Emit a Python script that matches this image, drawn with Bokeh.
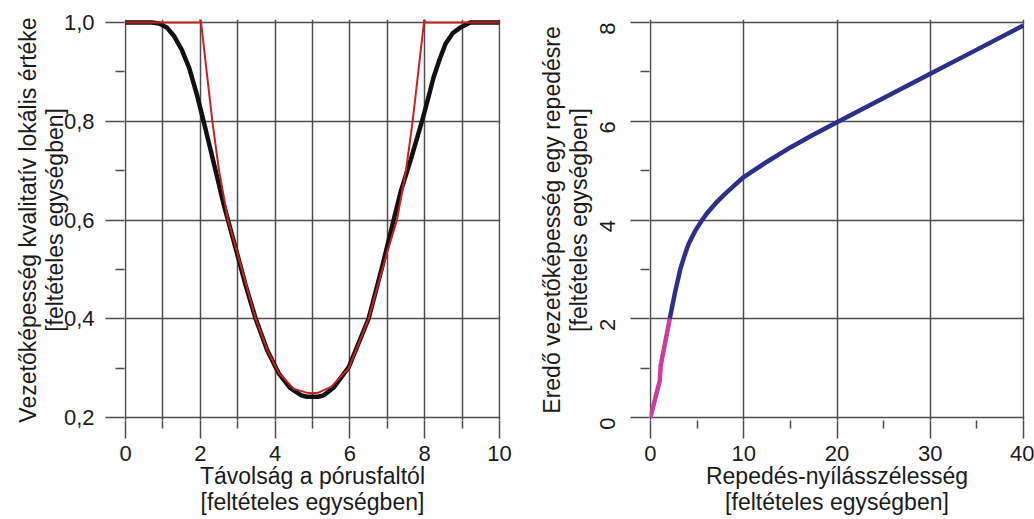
import math
from bokeh.plotting import figure
from bokeh.layouts import row
from bokeh.models import FixedTicker, Range1d
from bokeh.embed import file_html
from bokeh.resources import INLINE

# ---------------- Left panel data ----------------
dist_black = [0, 0.7, 0.9, 1.1, 1.3, 1.5, 1.7, 1.9, 2.1, 2.36, 2.63, 2.99, 3.21, 3.48,
              3.79, 4.1, 4.4, 4.7, 4.85, 5.15, 5.3, 5.57, 5.97, 6.5, 6.86, 7.17, 7.37,
              7.64, 7.93, 8.1, 8.24, 8.4, 8.56, 8.75, 8.96, 9.22, 10]
cond_black = [1.0, 1.0, 0.998, 0.99, 0.972, 0.945, 0.908, 0.856, 0.796, 0.715, 0.63,
              0.53, 0.468, 0.40, 0.336, 0.289, 0.26, 0.245, 0.242, 0.242, 0.245, 0.261,
              0.302, 0.40, 0.504, 0.60, 0.66, 0.725, 0.80, 0.848, 0.889, 0.925, 0.957,
              0.978, 0.99, 1.0, 1.0]

dist_red = [0, 2, 2, 2.32, 2.5, 2.74, 3.0, 3.48, 3.8, 4.1, 4.5, 4.86, 5.0, 5.14,
            5.5, 5.97, 6.5, 7.0, 7.26, 7.5, 7.68, 8.0, 8.0, 10]
cond_red = [1.0, 1.0, 1.012, 0.80, 0.70, 0.60, 0.53, 0.40, 0.335, 0.29, 0.258, 0.25,
            0.249, 0.25, 0.262, 0.30, 0.40, 0.535, 0.60, 0.70, 0.80, 1.012, 1.0, 1.0]

left_xticks = [0, 2, 4, 6, 8, 10]
left_xminor = [1, 3, 5, 7, 9]
left_yticks = [0.2, 0.4, 0.6, 0.8, 1.0]
left_ylabels = ["0,2", "0,4", "0,6", "0,8", "1,0"]
left_yminor = [0.3, 0.5, 0.7, 0.9]
left_xtitle = "Távolság a pórusfaltól\n[feltételes egységben]"
left_ytitle = "Vezetőképesség kvalitatív lokális értéke\n[feltételes egységben]"

# ---------------- Right panel data ----------------
width_mag = [0, 1.0, 1.1, 2.07]
cond_mag = [0, 0.75, 1.05, 2.0]

width_blue = [2.07, 2.6, 3.21, 3.6, 4.1, 4.8, 5.54, 6.0, 7.0, 8.0, 9.0, 10, 12.5, 15,
              17.5, 20, 25, 30, 35, 39.97]
cond_blue = [2.0, 2.5, 3.01, 3.25, 3.52, 3.78, 4.0, 4.12, 4.34, 4.53, 4.7, 4.87, 5.18,
             5.47, 5.73, 5.98, 6.47, 6.96, 7.45, 7.94]

right_xticks = [0, 10, 20, 30, 40]
right_xminor = [5, 15, 25, 35]
right_yticks = [0, 2, 4, 6, 8]
right_yminor = [1, 3, 5, 7]
right_xtitle = "Repedés-nyílásszélesség\n[feltételes egységben]"
right_ytitle = "Eredő vezetőképesség egy repedésre\n[feltételes egységben]"

# ---------------- Styling ----------------
FONT = "Liberation Sans"
GRID = "#4d4d4d"
TXT = "#1a1a1a"


def style_axis(ax, ticks, minor, out_major, out_minor, standoff, title, title_standoff):
    ax.ticker = FixedTicker(ticks=ticks, minor_ticks=minor)
    ax.axis_line_color = None
    ax.major_tick_in = 0
    ax.minor_tick_in = 0
    ax.major_tick_out = out_major
    ax.minor_tick_out = out_minor
    ax.major_tick_line_color = GRID
    ax.minor_tick_line_color = GRID
    ax.major_tick_line_width = 1.5
    ax.minor_tick_line_width = 1.5
    ax.major_label_text_font = FONT
    ax.major_label_text_font_size = "22px"
    ax.major_label_text_color = TXT
    ax.major_label_standoff = standoff
    ax.axis_label = title
    ax.axis_label_text_font = FONT
    ax.axis_label_text_font_size = "23px"
    ax.axis_label_text_font_style = "normal"
    ax.axis_label_text_color = TXT
    ax.axis_label_text_line_height = 1.02
    ax.axis_label_standoff = title_standoff


def make_fig(width, xr, yr, left, right):
    p = figure(width=width, height=519, x_range=Range1d(*xr), y_range=Range1d(*yr),
               output_backend="svg", toolbar_location=None,
               min_border_left=left, min_border_right=right,
               min_border_top=19, min_border_bottom=99)
    p.outline_line_color = None
    p.background_fill_color = "white"
    p.border_fill_color = "white"
    return p


# ---------------- Left figure ----------------
p1 = make_fig(520, (-0.03, 10.03), (0.194, 1.006), 124, 20)
style_axis(p1.xaxis[0], left_xticks, left_xminor, 18, 8, 7, left_xtitle, -1)
style_axis(p1.yaxis[0], left_yticks, left_yminor, 19, 9, 11, left_ytitle, -7)
p1.yaxis[0].major_label_overrides = dict(zip(left_yticks, left_ylabels))
p1.xgrid.ticker = FixedTicker(ticks=left_xticks, minor_ticks=left_xminor)
p1.ygrid.ticker = FixedTicker(ticks=left_yticks, minor_ticks=left_yminor)
p1.xgrid.grid_line_color = GRID
p1.xgrid.grid_line_width = 1.5
p1.xgrid.minor_grid_line_color = GRID
p1.xgrid.minor_grid_line_width = 1.5
p1.ygrid.grid_line_color = GRID
p1.ygrid.grid_line_width = 1.5

p1.line(dist_black, cond_black, line_color="#111111", line_width=4.5, line_join="round")
p1.line(dist_red, cond_red, line_color="#cc1f1f", line_width=2)

# ---------------- Right figure ----------------
p2 = make_fig(514, (-0.1, 40.1), (-0.06, 8.06), 129, 10)
style_axis(p2.xaxis[0], right_xticks, right_xminor, 18, 8, 7, right_xtitle, -1)
style_axis(p2.yaxis[0], right_yticks, right_yminor, 19, 9, 23, right_ytitle, -2)
p2.yaxis[0].major_label_orientation = math.pi / 2
p2.xgrid.ticker = FixedTicker(ticks=right_xticks, minor_ticks=right_xminor)
p2.ygrid.ticker = FixedTicker(ticks=right_yticks, minor_ticks=right_yminor)
p2.xgrid.grid_line_color = GRID
p2.xgrid.grid_line_width = 1.5
p2.ygrid.grid_line_color = GRID
p2.ygrid.grid_line_width = 1.5

p2.line(width_blue, cond_blue, line_color="#2e2f8c", line_width=4.5, line_join="round")
p2.line(width_mag, cond_mag, line_color="#d03c9e", line_width=4.5, line_join="round")

layout = row(p1, p2)
open("out.html", "w").write(file_html(layout, INLINE))
